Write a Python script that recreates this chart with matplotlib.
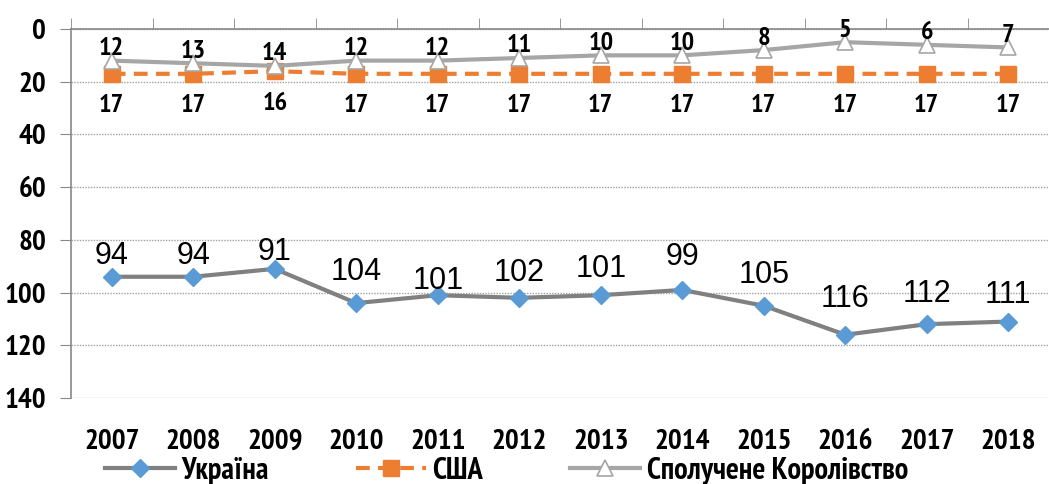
import numpy as np
import matplotlib
matplotlib.use("Agg")
import matplotlib.pyplot as plt

# Data
years = ["2007", "2008", "2009", "2010", "2011", "2012",
         "2013", "2014", "2015", "2016", "2017", "2018"]
ukraine = [94, 94, 91, 104, 101, 102, 101, 99, 105, 116, 112, 111]
usa = [17, 17, 16, 17, 17, 17, 17, 17, 17, 17, 17, 17]
uk = [12, 13, 14, 12, 12, 11, 10, 10, 8, 5, 6, 7]
y_ticks = [0, 20, 40, 60, 80, 100, 120, 140]

# label placement (pixels, screen y down -> negative is up)
ua_label_dy = [-21, -21, -17, -31, -14, -25, -26, -33, -31, -36, -30, -27]

narrow = ["PT Sans Narrow", "DejaVu Sans"]
plt.rcParams["font.family"] = narrow

fig = plt.figure(figsize=(10.49, 4.84), dpi=100)
ax = fig.add_axes([71 / 1049, 1 - 398 / 484, 1 - 71 / 1049, (398 - 29) / 484])

x = np.arange(len(years))

ax.plot(x, ukraine, color="#808080", linewidth=3, marker="D", markersize=9,
        markerfacecolor="#5B9BD5", markeredgecolor="#5B9BD5", label="Україна", zorder=3)
ax.plot(x, usa, color="#ED7D31", linewidth=3, linestyle=(0, (3.3, 2)), marker="s",
        markersize=12, markerfacecolor="#ED7D31", markeredgecolor="#ED7D31",
        label="США", zorder=3)
ax.plot(x, uk, color="#A6A6A6", linewidth=3, marker="^", markersize=12,
        markerfacecolor="white", markeredgecolor="#A6A6A6", markeredgewidth=1.2,
        label="Сполучене Королівство", zorder=4)

px = 72 / 100  # pixels -> points

for i in range(len(years)):
    ax.annotate(str(uk[i]), (x[i], uk[i]), xytext=(0, 12 * px), textcoords="offset points",
                ha="center", va="center", fontsize=19, fontweight="bold", zorder=5)
    ax.annotate(str(usa[i]), (x[i], usa[i]), xytext=(0, -32 * px), textcoords="offset points",
                ha="center", va="center", fontsize=19, fontweight="bold", zorder=5)
    ax.annotate(str(ukraine[i]), (x[i], ukraine[i]), xytext=(0, -ua_label_dy[i] * px),
                textcoords="offset points", ha="center", va="center", fontsize=22,
                family=["Liberation Sans", "DejaVu Sans"], zorder=5)

ax.set_ylim(140, 0)
ax.set_xlim(-0.5, 11.35)

ax.set_yticks(y_ticks)
ax.set_yticklabels([str(v) for v in y_ticks], fontsize=21, fontweight="bold")
ax.yaxis.grid(True, linestyle=(0, (1, 1)), color="#A0A0A0", linewidth=1)
ax.set_axisbelow(True)

ax.set_xticks(x)
ax.set_xticklabels(years, fontsize=21, fontweight="bold")
ax.set_xticks(np.arange(-0.5, 12, 1.0), minor=True)
ax.tick_params(axis="x", which="major", length=0, pad=22)
ax.tick_params(axis="x", which="minor", top=True, bottom=False, direction="out",
               length=8, color="#888888")
ax.tick_params(axis="y", direction="out", length=8, color="#888888", pad=10)

for side in ["bottom", "right"]:
    ax.spines[side].set_visible(False)
ax.spines["top"].set_color("#888888")
ax.spines["left"].set_color("#888888")
ax.spines["top"].set_linewidth(1.2)
ax.spines["left"].set_linewidth(1.2)

fig.legend(loc="center left", bbox_to_anchor=(105 / 1049, 13 / 484), ncol=3, frameon=False,
           prop={"family": narrow, "weight": "bold", "size": 22}, handlelength=2.3,
           handletextpad=0.2, columnspacing=2.85, borderpad=0, borderaxespad=0)

fig.savefig("out.png", dpi=100)
